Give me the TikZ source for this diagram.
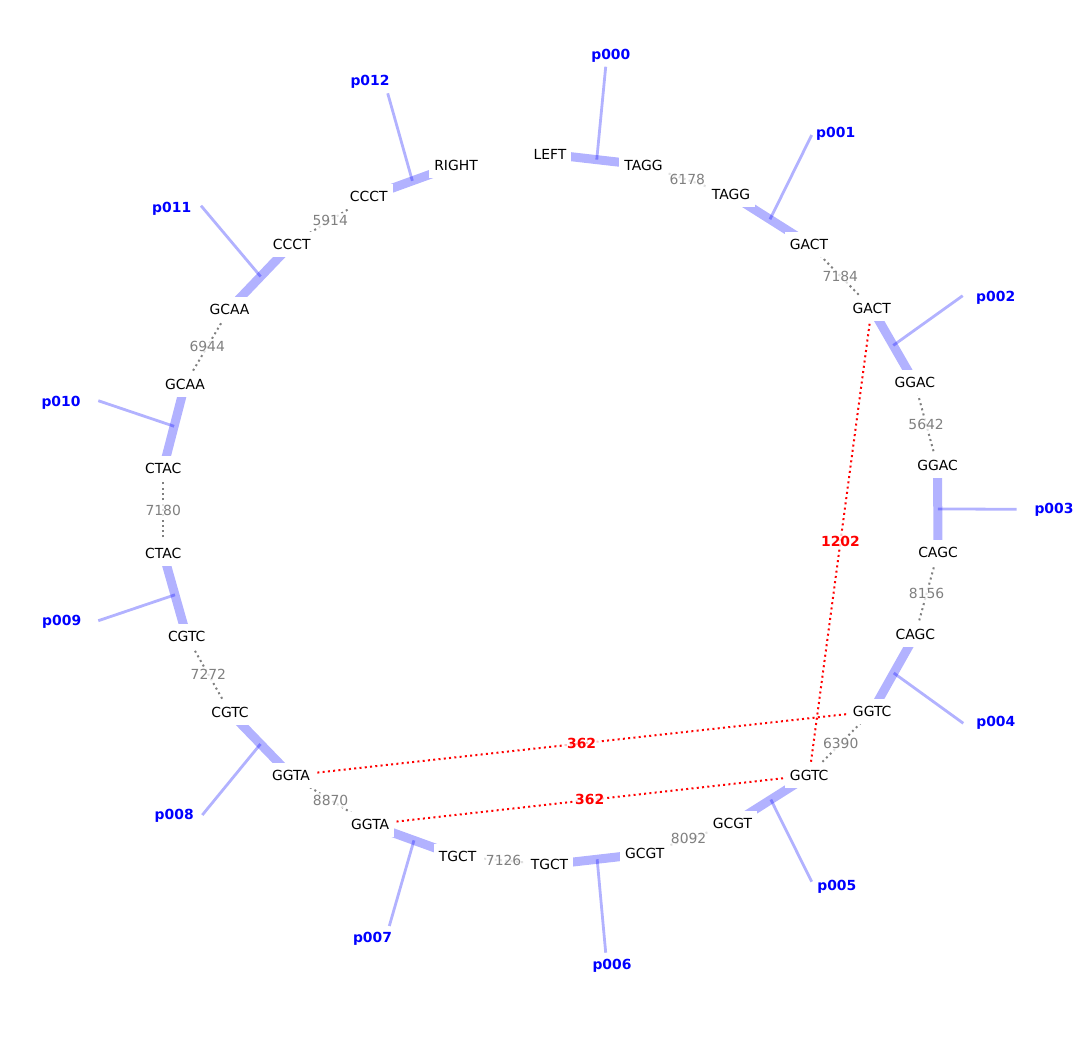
\documentclass[tikz,border=0pt]{standalone}
\usepackage{fontspec}
\setmainfont{DejaVu Sans}
\usetikzlibrary{calc, backgrounds}

\begin{document}
\begin{tikzpicture}[
            x=1pt, y=-1pt,
            every node/.style={font=\fontsize{13.9}{16}\selectfont, text height=10pt, text depth=0pt},
            seq/.style={fill=white, inner xsep=5pt, inner ysep=7.5pt},
            num/.style={fill=white, fill opacity=0.75, text opacity=1, text=gray, inner sep=2.5pt},
            dist/.style={num, text=red, font=\fontsize{13.9}{16}\selectfont\bfseries},
            part/.style={text=blue, font=\fontsize{13.9}{16}\selectfont\bfseries, inner sep=0pt},
            bar/.style={blue, draw opacity=0.3, line width=9pt},
            tie/.style={blue, draw opacity=0.3, line width=2.8pt},
            gap/.style={gray, line width=2pt, dash pattern=on 2pt off 3.3pt},
            link/.style={red, line width=2pt, dash pattern=on 2pt off 3.3pt}
        ]

        \useasboundingbox (0,0) rectangle (1083,1044);

        % sequence ends round the circle
        \node[seq] (left)  at (550,154.3) {LEFT};
        \node[seq] (tagga) at (643.5,165) {TAGG};
        \node[seq] (taggb) at (731,194.7) {TAGG};
        \node[seq] (gacta) at (809,244) {GACT};
        \node[seq] (gactb) at (871.7,308) {GACT};
        \node[seq] (ggaca) at (914.8,382.8) {GGAC};
        \node[seq] (ggacb) at (937.5,465.8) {GGAC};
        \node[seq] (cagca) at (938,552) {CAGC};
        \node[seq] (cagcb) at (915.3,634.7) {CAGC};
        \node[seq] (ggtca) at (872.2,711.3) {GGTC};
        \node[seq] (ggtcb) at (809.2,775.3) {GGTC};
        \node[seq] (gcgta) at (732.5,823.8) {GCGT};
        \node[seq] (gcgtb) at (644.8,853.8) {GCGT};
        \node[seq] (tgcta) at (549.5,864.7) {TGCT};
        \node[seq] (tgctb) at (457.7,856.2) {TGCT};
        \node[seq] (ggtaa) at (370.2,824.5) {GGTA};
        \node[seq] (ggtab) at (291,775.5) {GGTA};
        \node[seq] (cgtca) at (230,712.5) {CGTC};
        \node[seq] (cgtcb) at (186.7,636.3) {CGTC};
        \node[seq] (ctaca) at (163.2,553.3) {CTAC};
        \node[seq] (ctacb) at (163.2,468.3) {CTAC};
        \node[seq] (gcaaa) at (185,384.3) {GCAA};
        \node[seq] (gcaab) at (229.5,309) {GCAA};
        \node[seq] (cccta) at (291.7,244) {CCCT};
        \node[seq] (ccctb) at (368.7,196.7) {CCCT};
        \node[seq] (right) at (456,165) {RIGHT};

        % part labels
        \coordinate (e0) at (605.7,66.7);
        \coordinate (e1) at (811.7,135);
        \coordinate (e2) at (962.7,295.7);
        \coordinate (e3) at (1016.7,509.3);
        \coordinate (e4) at (963.3,723.3);
        \coordinate (e5) at (811.7,881.7);
        \coordinate (e6) at (605.7,952.7);
        \coordinate (e7) at (389.3,926);
        \coordinate (e8) at (202.3,815);
        \coordinate (e9) at (98.3,620.7);
        \coordinate (e10) at (98.3,400.7);
        \coordinate (e11) at (201,205.7);
        \coordinate (e12) at (387.7,93.3);

        \node[part] (p000) at (610.8,54.3) {p000};
        \node[part] (p001) at (835.7,132.5) {p001};
        \node[part] (p002) at (995.7,296) {p002};
        \node[part] (p003) at (1054,508.8) {p003};
        \node[part] (p004) at (995.8,721.8) {p004};
        \node[part] (p005) at (836.8,885.8) {p005};
        \node[part] (p006) at (612,964.3) {p006};
        \node[part] (p007) at (372.5,937.3) {p007};
        \node[part] (p008) at (174.2,814.2) {p008};
        \node[part] (p009) at (61.7,620) {p009};
        \node[part] (p010) at (61,401) {p010};
        \node[part] (p011) at (171.7,207) {p011};
        \node[part] (p012) at (370,80.7) {p012};

        \begin{scope}[on background layer]
        \draw[bar] (left.center) -- coordinate (m0) (tagga.center);
        \draw[bar] (taggb.center) -- coordinate (m1) (gacta.center);
        \draw[bar] (gactb.center) -- coordinate (m2) (ggaca.center);
        \draw[bar] (ggacb.center) -- coordinate (m3) (cagca.center);
        \draw[bar] (cagcb.center) -- coordinate (m4) (ggtca.center);
        \draw[bar] (ggtcb.center) -- coordinate (m5) (gcgta.center);
        \draw[bar] (gcgtb.center) -- coordinate (m6) (tgcta.center);
        \draw[bar] (tgctb.center) -- coordinate (m7) (ggtaa.center);
        \draw[bar] (ggtab.center) -- coordinate (m8) (cgtca.center);
        \draw[bar] (cgtcb.center) -- coordinate (m9) (ctaca.center);
        \draw[bar] (ctacb.center) -- coordinate (m10) (gcaaa.center);
        \draw[bar] (gcaab.center) -- coordinate (m11) (cccta.center);
        \draw[bar] (ccctb.center) -- coordinate (m12) (right.center);

        \draw[tie] (m0) -- (e0);
        \draw[tie] (m1) -- (e1);
        \draw[tie] (m2) -- (e2);
        \draw[tie] (m3) -- (e3);
        \draw[tie] (m4) -- (e4);
        \draw[tie] (m5) -- (e5);
        \draw[tie] (m6) -- (e6);
        \draw[tie] (m7) -- (e7);
        \draw[tie] (m8) -- (e8);
        \draw[tie] (m9) -- (e9);
        \draw[tie] (m10) -- (e10);
        \draw[tie] (m11) -- (e11);
        \draw[tie] (m12) -- (e12);

        \draw[gap] (tagga.center) -- node[num] {6178} (taggb.center);
        \draw[gap] (gacta.center) -- node[num] {7184} (gactb.center);
        \draw[gap] (ggaca.center) -- node[num] {5642} (ggacb.center);
        \draw[gap] (cagca.center) -- node[num] {8156} (cagcb.center);
        \draw[gap] (ggtca.center) -- node[num] {6390} (ggtcb.center);
        \draw[gap] (gcgta.center) -- node[num] {8092} (gcgtb.center);
        \draw[gap] (tgcta.center) -- node[num] {7126} (tgctb.center);
        \draw[gap] (ggtaa.center) -- node[num] {8870} (ggtab.center);
        \draw[gap] (cgtca.center) -- node[num] {7272} (cgtcb.center);
        \draw[gap] (ctaca.center) -- node[num] {7180} (ctacb.center);
        \draw[gap] (gcaaa.center) -- node[num] {6944} (gcaab.center);
        \draw[gap] (cccta.center) -- node[num] {5914} (ccctb.center);

        \draw[link] (gactb.center) -- node[dist] {1202} (ggtcb.center);
        \draw[link] (ggtab.center) -- node[dist] {362} (ggtca.center);
        \draw[link] (ggtaa.center) -- node[dist] {362} (ggtcb.center);
        \end{scope}

\end{tikzpicture}
\end{document}
